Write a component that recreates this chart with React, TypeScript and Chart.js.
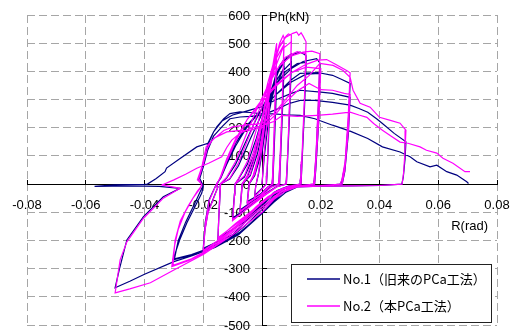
import { useEffect, useRef } from 'react';
import { Chart, registerables } from 'chart.js';

Chart.register(...registerables);

// ---- axis ticks ----
const xTicks = [-0.08, -0.06, -0.04, -0.02, 0, 0.02, 0.04, 0.06, 0.08];
const yTicks = [-500, -400, -300, -200, -100, 0, 100, 200, 300, 400, 500, 600];

const legendLabels = ['No.1（旧来のPCa工法）', 'No.2（本PCa工法）'];
const xTitle = 'R(rad)';
const yTitle = 'Ph(kN)';

// ---- No.1 (旧来のPCa工法) : [R(rad), Ph(kN)] ----
const no1Init = [[0,0],[0.0008,100],[0.0018,190],[0.0025,245],[0.0022,150],[0.0017,30],[0.0015,0],[0.0005,-10],[-0.001,-25],[-0.0025,-40],[-0.0022,-12],[-0.002,0]];
const no1Cyc005 = [[-0.0012,35],[0,110],[0.0015,220],[0.003,320],[0.0045,380],[0.005,395],[0.0045,260],[0.004,110],[0.0036,20],[0.0034,0],[0.002,-10],[0,-32],[-0.0025,-48],[-0.005,-65],[-0.0046,-25],[-0.0044,0],[-0.0025,30],[-0.0005,100],[0.0015,210],[0.0035,310],[0.005,365],[0.0045,220],[0.0039,60],[0.0037,0],[0.002,-10],[-0.0005,-35],[-0.005,-62],[-0.0046,-18],[-0.0045,0]];
const no1Cyc0075 = [[-0.003,25],[-0.001,95],[0.0015,230],[0.004,350],[0.006,420],[0.0075,442],[0.007,290],[0.0063,110],[0.0058,15],[0.0056,0],[0.003,-10],[0,-36],[-0.004,-68],[-0.0075,-95],[-0.007,-35],[-0.0067,0],[-0.004,30],[-0.0015,110],[0.0015,250],[0.0045,360],[0.0075,412],[0.0069,240],[0.0062,60],[0.006,0],[0.003,-8],[0,-40],[-0.004,-66],[-0.0075,-92],[-0.007,-28],[-0.0068,0]];
const no1Cyc01 = [[-0.005,25],[-0.0025,95],[0.0005,220],[0.0035,340],[0.006,410],[0.0085,450],[0.01,462],[0.0095,300],[0.0088,110],[0.0083,15],[0.0081,0],[0.005,-9],[0.002,-28],[-0.002,-60],[-0.006,-92],[-0.01,-125],[-0.0095,-55],[-0.0091,0],[-0.006,25],[-0.003,95],[0.0005,210],[0.004,330],[0.007,400],[0.01,432],[0.0094,250],[0.0086,60],[0.0083,0],[0.005,-9],[0.001,-38],[-0.005,-85],[-0.01,-120],[-0.0094,-35],[-0.0092,0]];
const no1Cyc015 = [[-0.008,18],[-0.005,70],[-0.002,160],[0.002,300],[0.005,390],[0.008,440],[0.011,462],[0.013,468],[0.0145,460],[0.015,455],[0.0145,290],[0.0137,100],[0.0132,15],[0.013,0],[0.009,-7],[0.005,-24],[0.001,-60],[-0.004,-110],[-0.009,-155],[-0.015,-195],[-0.0147,-120],[-0.0143,-40],[-0.0141,0],[-0.011,18],[-0.008,65],[-0.004,160],[0,250],[0.004,340],[0.008,400],[0.012,428],[0.015,432],[0.0144,250],[0.0136,70],[0.0133,0],[0.009,-7],[0.004,-30],[0,-80],[-0.006,-135],[-0.015,-192],[-0.0146,-90],[-0.0142,0]];
const no1Cyc02 = [[-0.012,22],[-0.009,70],[-0.006,140],[-0.002,230],[0.002,310],[0.006,370],[0.01,410],[0.014,435],[0.0186,445],[0.0197,430],[0.0192,280],[0.0184,100],[0.0178,15],[0.0175,0],[0.013,-6],[0.008,-15],[0.004,-40],[0,-90],[-0.006,-150],[-0.012,-200],[-0.02,-232],[-0.0194,-160],[-0.0184,-100],[-0.0167,-55],[-0.015,-10],[-0.0153,0],[-0.014,25],[-0.012,80],[-0.009,145],[-0.005,210],[0,265],[0.005,320],[0.01,362],[0.015,390],[0.0197,393],[0.0193,220],[0.0183,50],[0.0179,0],[0.013,-5],[0.007,-15],[0.002,-50],[-0.002,-95],[-0.01,-180],[-0.02,-228],[-0.0193,-135],[-0.018,-55],[-0.0155,0]];
const no1Cyc03 = [[-0.014,22],[-0.012,70],[-0.009,135],[-0.005,205],[0,265],[0.005,320],[0.01,370],[0.013,393],[0.019,396],[0.024,386],[0.027,372],[0.03,357],[0.0294,220],[0.0283,70],[0.0272,12],[0.0266,0],[0.022,-5],[0.015,-7],[0.01,-12],[0.006,-35],[0,-100],[-0.006,-160],[-0.013,-208],[-0.02,-235],[-0.025,-255],[-0.0303,-269],[-0.028,-198],[-0.0256,-138],[-0.0222,-67],[-0.0205,-32],[-0.02,-8],[-0.0215,15],[-0.0205,55],[-0.0184,140],[-0.0165,185],[-0.0135,225],[-0.01,245],[-0.005,260],[0,275],[0.005,300],[0.01,322],[0.013,333],[0.02,326],[0.024,322],[0.03,308],[0.0294,180],[0.0282,45],[0.0273,0],[0.02,-5],[0.012,-8],[0.007,-30],[0,-105],[-0.008,-175],[-0.016,-220],[-0.024,-250],[-0.0298,-265],[-0.0285,-200],[-0.026,-135],[-0.0225,-60],[-0.0205,-15],[-0.02,-5]];
const no1Cyc05 = [[-0.0212,20],[-0.02,60],[-0.0185,120],[-0.0165,170],[-0.0135,205],[-0.0109,232],[-0.0075,238],[-0.004,240],[0,245],[0.005,265],[0.009,285],[0.013,297],[0.018,297],[0.024,290],[0.03,280],[0.033,268],[0.036,255],[0.039,232],[0.041,215],[0.045,180],[0.049,150],[0.0487,90],[0.0481,25],[0.0476,0],[0.04,-5],[0.03,-6],[0.02,-7],[0.012,-10],[0.008,-30],[0.004,-65],[0,-105],[-0.008,-180],[-0.016,-225],[-0.024,-255],[-0.03,-275],[-0.04,-320],[-0.045,-345],[-0.05,-368],[-0.0485,-300],[-0.046,-198],[-0.0404,-116],[-0.0336,-45],[-0.0279,-15],[-0.035,-8],[-0.045,-6],[-0.057,-8],[-0.05,-3],[-0.04,-1]];
const no1Final = [[-0.039,0],[-0.036,20],[-0.033,44],[-0.0325,57],[-0.028,90],[-0.0222,132],[-0.0184,145],[-0.0165,185],[-0.0154,203],[-0.013,232],[-0.0109,250],[-0.0075,256],[-0.004,254],[-0.0007,250],[0.004,249],[0.008,246],[0.013,244],[0.018,232],[0.024,209],[0.03,188],[0.036,162],[0.041,132],[0.047,114],[0.0504,97],[0.0527,79],[0.0572,61],[0.0595,67],[0.0629,44],[0.0663,32],[0.0697,8],[0.0703,2]];

// ---- No.2 (本PCa工法) : [R(rad), Ph(kN)] ----
const no2Init = [[0,0],[0.0008,120],[0.0018,230],[0.0025,290],[0.0022,180],[0.0017,40],[0.0015,0],[0.0005,-12],[-0.001,-28],[-0.0025,-45],[-0.0022,-15],[-0.002,0]];
const no2Cyc005 = [[-0.0012,40],[0,130],[0.0015,260],[0.003,380],[0.0045,470],[0.005,500],[0.0045,330],[0.004,150],[0.0036,30],[0.0034,0],[0.002,-12],[0,-35],[-0.0025,-52],[-0.005,-70],[-0.0046,-30],[-0.0044,0],[-0.0025,35],[-0.0005,120],[0.0015,250],[0.0035,380],[0.005,460],[0.0045,280],[0.0039,80],[0.0037,0],[0.002,-10],[-0.0005,-38],[-0.005,-66],[-0.0046,-20],[-0.0045,0]];
const no2Cyc0075 = [[-0.003,30],[-0.001,110],[0.0015,270],[0.004,420],[0.006,500],[0.0072,527],[0.0075,520],[0.007,330],[0.0063,130],[0.0058,20],[0.0056,0],[0.003,-12],[0,-40],[-0.004,-72],[-0.0075,-100],[-0.007,-40],[-0.0067,0],[-0.004,35],[-0.0015,130],[0.0015,300],[0.0045,440],[0.0075,495],[0.0069,280],[0.0062,70],[0.006,0],[0.003,-10],[0,-42],[-0.004,-70],[-0.0075,-96],[-0.007,-30],[-0.0068,0]];
const no2Cyc01 = [[-0.005,30],[-0.0025,110],[0.0005,260],[0.0035,410],[0.006,490],[0.0082,525],[0.009,533],[0.01,528],[0.0095,330],[0.0088,120],[0.0083,20],[0.0081,0],[0.005,-10],[0.002,-30],[-0.002,-62],[-0.006,-95],[-0.01,-130],[-0.0095,-60],[-0.0091,0],[-0.006,30],[-0.003,110],[0.0005,250],[0.004,400],[0.007,480],[0.01,505],[0.0094,280],[0.0086,70],[0.0083,0],[0.005,-10],[0.001,-40],[-0.005,-88],[-0.01,-126],[-0.0094,-40],[-0.0092,0]];
const no2Cyc015 = [[-0.008,20],[-0.005,80],[-0.002,190],[0.002,360],[0.005,470],[0.008,520],[0.0105,535],[0.0118,540],[0.0125,528],[0.0133,537],[0.014,525],[0.015,505],[0.0145,320],[0.0137,120],[0.0132,20],[0.013,0],[0.009,-8],[0.005,-25],[0.001,-55],[-0.004,-100],[-0.009,-140],[-0.015,-195],[-0.0147,-120],[-0.0143,-40],[-0.0141,0],[-0.011,20],[-0.008,75],[-0.004,180],[0,290],[0.004,390],[0.008,450],[0.012,470],[0.015,462],[0.0144,280],[0.0136,80],[0.0133,0],[0.009,-8],[0.004,-30],[0,-68],[-0.006,-120],[-0.015,-190],[-0.0146,-90],[-0.0142,0]];
const no2Cyc02 = [[-0.012,25],[-0.009,80],[-0.006,160],[-0.002,260],[0.002,350],[0.006,420],[0.01,455],[0.014,468],[0.017,472],[0.0197,463],[0.0192,300],[0.0184,110],[0.0178,20],[0.0175,0],[0.013,-6],[0.008,-15],[0.004,-35],[0,-68],[-0.006,-125],[-0.012,-175],[-0.02,-240],[-0.0194,-163],[-0.0184,-103],[-0.0167,-57],[-0.015,-11],[-0.0153,0],[-0.014,30],[-0.012,90],[-0.009,160],[-0.005,230],[0,290],[0.005,350],[0.01,395],[0.015,415],[0.02,410],[0.0194,240],[0.0183,60],[0.0179,0],[0.013,-5],[0.007,-15],[0.002,-45],[-0.002,-80],[-0.01,-165],[-0.02,-236],[-0.0193,-140],[-0.018,-60],[-0.0155,0]];
const no2Cyc03 = [[-0.014,25],[-0.012,80],[-0.009,150],[-0.005,230],[0,300],[0.005,355],[0.01,395],[0.015,425],[0.019,440],[0.022,442],[0.025,425],[0.0288,403],[0.03,395],[0.0294,250],[0.0283,80],[0.0272,15],[0.0266,0],[0.022,-5],[0.015,-7],[0.01,-12],[0.006,-30],[0,-80],[-0.006,-130],[-0.013,-190],[-0.02,-245],[-0.025,-272],[-0.0307,-293],[-0.0298,-220],[-0.0285,-160],[-0.0262,-100],[-0.0235,-50],[-0.021,-15],[-0.0205,0],[-0.022,15],[-0.0205,60],[-0.019,132],[-0.016,165],[-0.012,185],[-0.008,190],[-0.004,191],[0,200],[0.004,240],[0.008,290],[0.012,330],[0.016,357],[0.02,335],[0.024,333],[0.028,322],[0.03,318],[0.0294,190],[0.0282,50],[0.0273,0],[0.02,-5],[0.012,-8],[0.007,-25],[0,-88],[-0.008,-155],[-0.016,-220],[-0.024,-265],[-0.0303,-288],[-0.0296,-200],[-0.0278,-130],[-0.025,-75],[-0.022,-25],[-0.0205,-5]];
const no2Cyc05 = [[-0.0215,20],[-0.02,70],[-0.0185,130],[-0.017,155],[-0.013,190],[-0.01,203],[-0.005,210],[0,215],[0.004,250],[0.008,300],[0.012,350],[0.016,385],[0.0197,428],[0.0242,421],[0.0276,403],[0.03,379],[0.031,333],[0.0334,287],[0.0368,273],[0.04,237],[0.044,225],[0.047,216],[0.049,191],[0.0487,120],[0.0482,40],[0.0477,0],[0.04,-5],[0.03,-6],[0.02,-7],[0.012,-10],[0.008,-25],[0.004,-55],[0,-100],[-0.01,-180],[-0.02,-250],[-0.03,-305],[-0.038,-350],[-0.045,-372],[-0.05,-386],[-0.0483,-269],[-0.046,-205],[-0.0404,-122],[-0.0336,-50],[-0.0279,-15],[-0.034,-3]];
const no2Final = [[-0.034,-3],[-0.03,15],[-0.026,35],[-0.0222,56],[-0.018,75],[-0.0137,97],[-0.012,130],[-0.0103,156],[-0.0075,180],[-0.004,198],[-0.0007,205],[0.004,222],[0.007,244],[0.012,240],[0.0187,244],[0.024,248],[0.03,255],[0.033,245],[0.0357,237],[0.038,215],[0.041,191],[0.044,170],[0.047,149],[0.0497,145],[0.0538,132],[0.056,120],[0.0595,110],[0.0616,92],[0.065,74],[0.0691,44],[0.0708,44]];

const no1Stages = [no1Init, no1Cyc005, no1Cyc0075, no1Cyc01, no1Cyc015, no1Cyc02, no1Cyc03, no1Cyc05, no1Final];
const no2Stages = [no2Init, no2Cyc005, no2Cyc0075, no2Cyc01, no2Cyc015, no2Cyc02, no2Cyc03, no2Cyc05, no2Final];

const toPoints = (stages: number[][][]) => stages.flat().map(([x, y]) => ({ x, y }));

const TICK_FONT = { family: '"Liberation Sans", Arial, sans-serif', size: 13 };

const overlayPlugin = {
  id: 'overlay',
  afterDraw(chart: any) {
    const { ctx, chartArea: ca, scales } = chart;
    const xs = scales.x;
    const ys = scales.y;
    ctx.save();
    // axis titles
    ctx.fillStyle = '#000';
    ctx.font = '13px "Liberation Sans", Arial, sans-serif';
    ctx.textBaseline = 'middle';
    ctx.textAlign = 'left';
    ctx.fillText(yTitle, xs.getPixelForValue(0) + 7, ys.getPixelForValue(600) + 2);
    ctx.textAlign = 'right';
    ctx.fillText(xTitle, xs.getPixelForValue(0.08) - 9, ys.getPixelForValue(0) + 42);
    // legend box
    const x1 = ca.right - 206, x2 = ca.right - 6, y1 = ca.bottom - 61, y2 = ca.bottom - 3;
    ctx.fillStyle = '#fff';
    ctx.fillRect(x1, y1, x2 - x1, y2 - y1);
    ctx.strokeStyle = '#222';
    ctx.lineWidth = 1;
    ctx.strokeRect(x1 + 0.5, y1 + 0.5, x2 - x1, y2 - y1);
    ctx.font = '13px "Noto Sans CJK JP", sans-serif';
    ctx.textAlign = 'left';
    chart.data.datasets.forEach((ds: any, i: number) => {
      const ly = y1 + 15 + i * 27;
      ctx.strokeStyle = ds.borderColor;
      ctx.lineWidth = 1.3;
      ctx.beginPath();
      ctx.moveTo(x1 + 16, ly);
      ctx.lineTo(x1 + 49, ly);
      ctx.stroke();
      ctx.fillStyle = '#000';
      ctx.fillText(ds.label, x1 + 52, ly);
    });
    ctx.restore();
  },
};

export default function App() {
  const canvasRef = useRef<HTMLCanvasElement>(null);

  useEffect(() => {
    if (!canvasRef.current) return;
    const zeroW = (s: any) => { s.width = 0; s.paddingTop = 0; s.paddingBottom = 0; };
    const zeroH = (s: any) => { s.height = 0; s.paddingLeft = 0; s.paddingRight = 0; };
    const gridColor = (c: any) => (c.tick && c.tick.value === 0 ? 'rgba(0,0,0,0)' : '#a6a6a6');
    const chart = new Chart(canvasRef.current, {
      type: 'scatter',
      data: {
        datasets: [
          {
            label: legendLabels[0],
            data: toPoints(no1Stages),
            showLine: true,
            borderColor: '#000080',
            backgroundColor: '#000080',
            borderWidth: 1.2,
            pointRadius: 0,
            order: 2,
          },
          {
            label: legendLabels[1],
            data: toPoints(no2Stages),
            showLine: true,
            borderColor: '#ff00ff',
            backgroundColor: '#ff00ff',
            borderWidth: 1.2,
            pointRadius: 0,
            order: 1,
          },
        ],
      },
      options: {
        animation: false,
        responsive: false,
        events: [],
        layout: { padding: { left: 27, right: 16, top: 15, bottom: 6 } },
        plugins: { legend: { display: false }, tooltip: { enabled: false } },
        scales: {
          x: {
            type: 'linear',
            position: { y: 0 } as any,
            min: xTicks[0],
            max: xTicks[xTicks.length - 1],
            afterBuildTicks: (s: any) => { s.ticks = xTicks.map((v) => ({ value: v })); },
            afterFit: zeroH,
            grid: { color: gridColor, lineWidth: 1, drawTicks: true, tickLength: -5, tickColor: '#000' },
            border: { display: true, color: '#000', width: 1, dash: [8, 4] },
            ticks: {
              font: TICK_FONT,
              color: '#000',
              padding: 19,
              maxRotation: 0,
              autoSkip: false,
              callback: (v: any) => (Number(v) === 0 ? '0' : Number(v).toFixed(2)),
            },
          },
          y: {
            type: 'linear',
            position: { x: 0 } as any,
            min: yTicks[0],
            max: yTicks[yTicks.length - 1],
            afterBuildTicks: (s: any) => { s.ticks = yTicks.map((v) => ({ value: v })); },
            afterFit: zeroW,
            grid: { color: gridColor, lineWidth: 1, drawTicks: true, tickLength: -5, tickColor: '#000' },
            border: { display: true, color: '#000', width: 1, dash: [8, 4] },
            ticks: { display: false },
          },
          y2: {
            type: 'linear',
            axis: 'y',
            position: { x: -0.0041 } as any,
            min: yTicks[0],
            max: yTicks[yTicks.length - 1],
            afterBuildTicks: (s: any) => { s.ticks = yTicks.map((v) => ({ value: v })); },
            afterFit: zeroW,
            grid: { display: false, drawTicks: false },
            border: { display: false },
            ticks: { font: TICK_FONT, color: '#000', labelOffset: 1, autoSkip: false, callback: (v: any) => String(v) },
          },
        } as any,
      },
      plugins: [overlayPlugin],
    });
    return () => chart.destroy();
  }, []);

  return (
    <div style={{ position: 'absolute', left: 0, top: 0, width: 513, height: 331, background: '#fff' }}>
      <canvas ref={canvasRef} width={513} height={331} />
    </div>
  );
}
